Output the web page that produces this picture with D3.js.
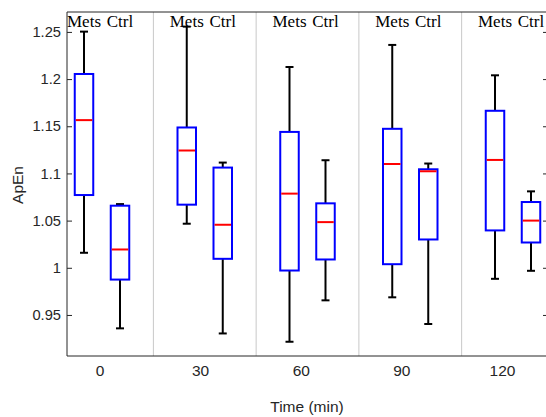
<!DOCTYPE html>
<html>
<head>
<meta charset="utf-8">
<script src="https://cdn.jsdelivr.net/npm/d3@7"></script>
<style>
  body { margin: 0; background: #fff; }
  svg { display: block; }
</style>
</head>
<body>
<div id="chart"></div>
<script>
// tiempos (min) y estadisticos de cada caja: [min, q1, mediana, q3, max]
var times = [0, 30, 60, 90, 120];
var groups = ["Mets", "Ctrl"];
var metsStats = [
  [1.0159, 1.0771, 1.1565, 1.2054, 1.2503],
  [1.0467, 1.0669, 1.1243, 1.1487, 1.2556],
  [0.9216, 0.9971, 1.0786, 1.1440, 1.2128],
  [0.9687, 1.0038, 1.1100, 1.1473, 1.2362],
  [0.9883, 1.0396, 1.1143, 1.1664, 1.2040]
];
var ctrlStats = [
  [0.9358, 0.9875, 1.0194, 1.0658, 1.0675],
  [0.9304, 1.0095, 1.0456, 1.1062, 1.1115],
  [0.9655, 1.0088, 1.0484, 1.0683, 1.1140],
  [0.9404, 1.0300, 1.1023, 1.1044, 1.1105],
  [0.9968, 1.0268, 1.0500, 1.0697, 1.0810]
];
var yTicks = [0.95, 1, 1.05, 1.1, 1.15, 1.2, 1.25];

var width = 546, height = 417;
var plot = {left: 67, right: 548, top: 12, bottom: 356};

var svg = d3.select("#chart")
  .append("svg")
    .attr("width", width)
    .attr("height", height);

// escalas
var x = d3.scaleLinear().domain([0, 120]).range([102, 513]);       // centro de cada grupo
var xLab = d3.scaleLinear().domain([0, 120]).range([99.5, 502]);   // etiquetas del eje
var y = d3.scaleLinear().domain([0.9065, 1.2711]).range([plot.bottom, plot.top]);
var offset = 18;
var boxW = 18.5, capW = 8;

var axisColor = "#262626";
var sans = "'Liberation Sans', Arial, sans-serif";

// separadores entre grupos
svg.append("g")
  .selectAll("line")
  .data(times.slice(0, -1))
  .enter()
  .append("line")
    .attr("x1", function(d) { return x(d + 15); })
    .attr("x2", function(d) { return x(d + 15); })
    .attr("y1", plot.top)
    .attr("y2", plot.bottom)
    .attr("stroke", "#c8c8c8")
    .attr("stroke-width", 1);

// datos juntos para dibujar
var boxes = [];
times.forEach(function(t, i) {
  boxes.push({t: t, g: 0, s: metsStats[i]});
  boxes.push({t: t, g: 1, s: ctrlStats[i]});
});
function cx(d) { return x(d.t) + (d.g === 0 ? -offset : offset); }

var b = svg.append("g").selectAll("g")
  .data(boxes)
  .enter()
  .append("g");

// bigotes
b.append("line")
  .attr("x1", cx).attr("x2", cx)
  .attr("y1", function(d) { return y(d.s[3]); })
  .attr("y2", function(d) { return y(d.s[4]); })
  .attr("stroke", "black").attr("stroke-width", 2);
b.append("line")
  .attr("x1", cx).attr("x2", cx)
  .attr("y1", function(d) { return y(d.s[1]); })
  .attr("y2", function(d) { return y(d.s[0]); })
  .attr("stroke", "black").attr("stroke-width", 2);
[0, 4].forEach(function(k) {
  b.append("line")
    .attr("x1", function(d) { return cx(d) - capW / 2; })
    .attr("x2", function(d) { return cx(d) + capW / 2; })
    .attr("y1", function(d) { return y(d.s[k]); })
    .attr("y2", function(d) { return y(d.s[k]); })
    .attr("stroke", "black").attr("stroke-width", 2);
});

// cajas
b.append("rect")
  .attr("x", function(d) { return cx(d) - boxW / 2; })
  .attr("y", function(d) { return y(d.s[3]); })
  .attr("width", boxW)
  .attr("height", function(d) { return y(d.s[1]) - y(d.s[3]); })
  .attr("fill", "white")
  .attr("stroke", "#0000ff")
  .attr("stroke-width", 2);

// medianas
b.append("line")
  .attr("x1", function(d) { return cx(d) - boxW / 2 + 1; })
  .attr("x2", function(d) { return cx(d) + boxW / 2 - 1; })
  .attr("y1", function(d) { return y(d.s[2]); })
  .attr("y2", function(d) { return y(d.s[2]); })
  .attr("stroke", "#ff0000").attr("stroke-width", 2);

// etiquetas de grupo arriba
b.append("text")
  .attr("x", cx)
  .attr("y", 27)
  .attr("text-anchor", "middle")
  .style("font-family", "'Liberation Serif', 'Times New Roman', serif")
  .style("font-size", "17px")
  .attr("fill", "black")
  .text(function(d) { return groups[d.g]; });

// marco
var ax = svg.append("g");
ax.append("line").attr("x1", plot.left).attr("x2", plot.right).attr("y1", plot.top).attr("y2", plot.top)
  .attr("stroke", axisColor);
ax.append("line").attr("x1", plot.left).attr("x2", plot.right).attr("y1", plot.bottom).attr("y2", plot.bottom)
  .attr("stroke", axisColor);
ax.append("line").attr("x1", plot.left).attr("x2", plot.left).attr("y1", plot.top).attr("y2", plot.bottom)
  .attr("stroke", axisColor);

// eje Y
var yAxis = svg.append("g")
  .attr("transform", "translate(" + plot.left + ",0)")
  .call(d3.axisLeft(y).tickValues(yTicks).tickSize(-5).tickPadding(6)
    .tickFormat(function(d) { return String(d); }));
yAxis.select(".domain").remove();
yAxis.selectAll("line").attr("stroke", axisColor);
yAxis.selectAll("text")
  .style("font-family", sans)
  .style("font-size", "14.7px")
  .attr("fill", axisColor);

// ticks a la derecha
var yRight = svg.append("g")
  .attr("transform", "translate(" + plot.right + ",0)")
  .call(d3.axisRight(y).tickValues(yTicks).tickSize(-5).tickFormat(""));
yRight.select(".domain").remove();
yRight.selectAll("line").attr("stroke", axisColor);

// eje X (solo etiquetas)
var xAxis = svg.append("g")
  .attr("transform", "translate(0," + plot.bottom + ")")
  .call(d3.axisBottom(xLab).tickValues(times).tickSize(0).tickPadding(9));
xAxis.select(".domain").remove();
xAxis.selectAll("text")
  .style("font-family", sans)
  .style("font-size", "15.5px")
  .attr("fill", axisColor);

svg.append("text")
  .attr("x", 307)
  .attr("y", 412)
  .attr("text-anchor", "middle")
  .style("font-family", sans)
  .style("font-size", "15.5px")
  .attr("fill", axisColor)
  .text("Time (min)");

svg.append("text")
  .attr("transform", "translate(23,185) rotate(-90)")
  .attr("text-anchor", "middle")
  .style("font-family", sans)
  .style("font-size", "15.5px")
  .attr("fill", axisColor)
  .text("ApEn");
</script>
</body>
</html>
